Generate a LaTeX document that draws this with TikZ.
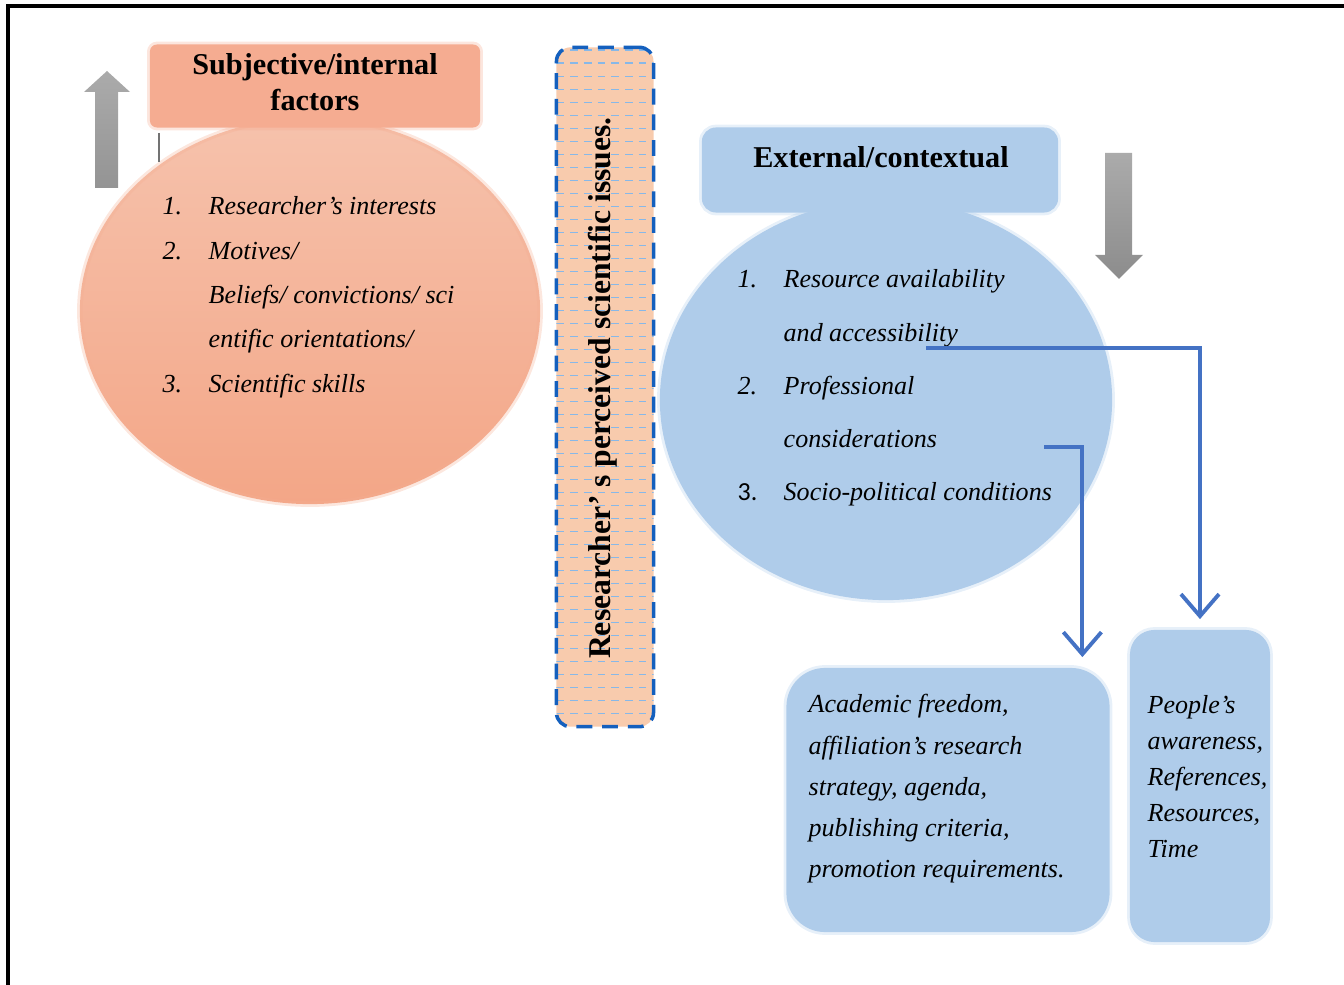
\documentclass[tikz,border=0pt]{standalone}
\usepackage{fontspec}
\setmainfont{Liberation Serif}
\newfontfamily\numfont{Carlito}
\usetikzlibrary{arrows.meta}
\definecolor{salmontop}{RGB}{246,194,172}
\definecolor{salmonbot}{RGB}{243,166,135}
\definecolor{salmonbox}{RGB}{245,172,145}
\definecolor{peach}{RGB}{248,203,173}
\definecolor{skyfill}{RGB}{175,204,234}
\definecolor{dashblue}{RGB}{20,96,190}
\definecolor{hatchblue}{RGB}{135,184,232}
\definecolor{linkblue}{RGB}{68,114,196}
\tikzstyle{titletext}=[font=\bfseries\fontsize{8.6}{10.2}\selectfont, align=center, inner sep=0pt]
\tikzstyle{listtext}=[font=\itshape\fontsize{7.4}{12.6}\selectfont, inner sep=0pt, anchor=base west]
\tikzstyle{soft}=[line width=1.6pt, draw opacity=0.3]
\tikzstyle{skybox}=[fill=skyfill, draw=skyfill, soft, inner sep=0pt]
\tikzstyle{link}=[linkblue, line width=1.1pt, -{Straight Barb[length=2.2mm,width=3.8mm]}, shorten >=0.08cm]

\begin{document}
\begin{tikzpicture}[x=0.01cm, y=-0.01cm]
\useasboundingbox (0,0) rectangle (1344,985);
% Frame
    \draw[line width=0.9pt] (8,985) -- (8,6) -- (1344,6);
% Subjective side
    \shade[top color=salmontop, bottom color=salmonbot] (310,311) ellipse [x radius=2.3cm, y radius=1.93cm];
    \draw[salmonbot!70!salmontop, soft] (310,311) ellipse [x radius=2.3cm, y radius=1.93cm];
    \node[fill=salmonbox, draw=salmonbox, soft, inner sep=0pt, minimum width=3.3cm, minimum height=0.83cm, rounded corners=2pt] (intbox) at (315,86) {};
    \node[titletext] (inttitle) at (315,82) {Subjective/internal\\factors};
    \node[listtext] (intlist) at (162,215) {\begin{tabular}[t]{@{}p{0.46cm}@{}l@{}}
        1. & Researcher’s interests\\
        2. & Motives/\\
           & Beliefs/ convictions/ sci\\
           & entific orientations/\\
        3. & Scientific skills
    \end{tabular}};
    \shade[top color=black!33, bottom color=black!42] (95,188) -- (95,92) -- (84,92) -- (107,71) -- (130,92) -- (118,92) -- (118,188) -- cycle;
    \draw[black!55, line width=0.4pt] (159,133) -- (159,162);
% Perceived issues
    \node[fill=peach, draw=dashblue, line width=1pt, dash pattern=on 4.5pt off 2.8pt, rounded corners=4pt,
        minimum width=0.97cm, minimum height=6.79cm,
        path picture={
            \foreach \k in {1,...,52}
                \draw[hatchblue, line width=0.45pt, dash pattern=on 2.2pt off 1.7pt]
                    ([yshift=\k*0.13cm]path picture bounding box.south west) -- ([yshift=\k*0.13cm]path picture bounding box.south east);
        }] (issues) at (605,387) {};
    \node[rotate=90, font=\bfseries\fontsize{9}{10}\selectfont, inner sep=0pt] (issuestext) at (603,388) {Researcher’ s perceived scientific issues.};
% External side
    \fill[skyfill] (886,400) ellipse [x radius=2.26cm, y radius=2cm];
    \draw[skyfill, soft] (886,400) ellipse [x radius=2.26cm, y radius=2cm];
    \node[skybox, minimum width=3.56cm, minimum height=0.85cm, rounded corners=4pt] (extbox) at (880,170) {};
    \node[titletext] (exttitle) at (881,157) {External/contextual};
    \node[listtext] (extlist) at (737,288) {\fontsize{7.4}{15.1}\selectfont\begin{tabular}[t]{@{}p{0.46cm}@{}l@{}}
        1. & Resource availability\\
           & and accessibility\\
        2. & Professional\\
           & considerations\\
        {\upshape\numfont 3.} & Socio-political conditions
    \end{tabular}};
    \shade[top color=black!33, bottom color=black!45] (1105,153) -- (1132,153) -- (1132,255) -- (1143,255) -- (1119,279) -- (1095,255) -- (1105,255) -- cycle;
% Boxes below
    \node[skybox, minimum width=3.23cm, minimum height=2.64cm, rounded corners=11pt] (acadbox) at (948,800) {};
    \node[listtext] (acadtext) at (808,713) {\fontsize{7.4}{11.7}\selectfont\begin{tabular}[t]{@{}l@{}}
        Academic freedom,\\
        affiliation’s research\\
        strategy, agenda,\\
        publishing criteria,\\
        promotion requirements.
    \end{tabular}};
    \node[skybox, minimum width=1.4cm, minimum height=3.12cm, rounded corners=7pt] (peoplebox) at (1200,786) {};
    \node[listtext] (peopletext) at (1147,714) {\fontsize{7.4}{10.2}\selectfont\begin{tabular}[t]{@{}l@{}}
        People’s\\
        awareness,\\
        References,\\
        Resources,\\
        Time
    \end{tabular}};
% Links
    \coordinate (accend) at (926,348);
    \coordinate (consend) at (1044,447);
    \draw[link] (accend) -| (peoplebox.north);
    \draw[link] (consend) -| ([xshift=-0.3cm]acadbox.north east);
\end{tikzpicture}
\end{document}
